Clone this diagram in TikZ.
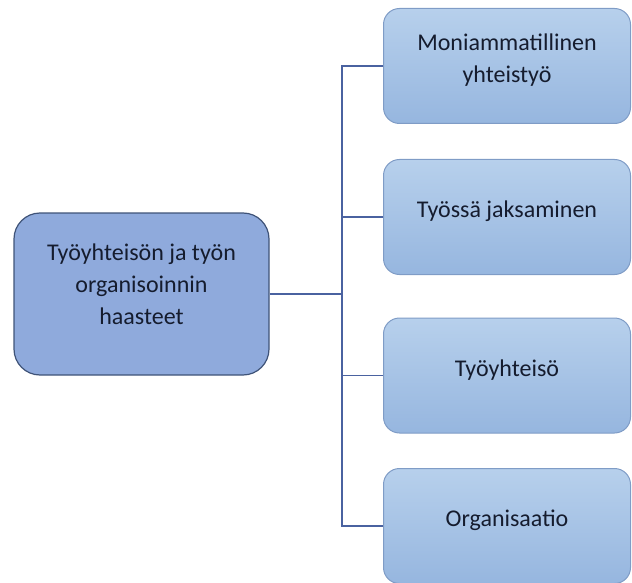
\documentclass[tikz,border=0pt]{standalone}
\usepackage{fontspec}
\setmainfont{Carlito}
\definecolor{mainfill}{HTML}{8FAADC}
\definecolor{mainborder}{HTML}{3F5378}
\definecolor{subtop}{HTML}{B7D0EC}
\definecolor{subbot}{HTML}{96B6DF}
\definecolor{subborder}{HTML}{7F9CC6}
\definecolor{conncol}{HTML}{4A62A0}
\definecolor{textcol}{HTML}{151C2E}
\begin{document}
\begin{tikzpicture}[x=1pt,y=-1pt,
  mainbox/.style={draw=mainborder, line width=1.2pt, fill=mainfill, rounded corners=26pt,
    minimum width=255pt, minimum height=162pt, align=center, text=textcol,
    font=\fontsize{24}{32}\selectfont,
    execute at end node={\rule[-20pt]{0pt}{0pt}}},
  subbox/.style={draw=subborder, line width=1pt, top color=subtop, bottom color=subbot,
    rounded corners=16pt, minimum width=247pt, minimum height=115pt, align=center,
    text=textcol, font=\fontsize{24}{32}\selectfont,
    execute at end node={\rule[-15pt]{0pt}{0pt}}},
  conn/.style={draw=conncol, line width=1.1pt}]
\useasboundingbox (0,0) rectangle (632,583);
\node[mainbox] (main) at (141.5,294) {Työyhteisön ja työn\\organisoinnin\\haasteet};
\node[subbox] (a) at (507,66) {Moniammatillinen\\yhteistyö};
\node[subbox] (b) at (507,217) {Työssä jaksaminen};
\node[subbox] (c) at (507,375.5) {Työyhteisö};
\node[subbox] (d) at (507,526) {Organisaatio};
\coordinate (j) at (342,294);
\draw[conn] (a.west) -- (a.west -| j) -- (d.west -| j) -- (d.west);
\draw[conn] (b.west) -- (b.west -| j);
\draw[conn] (c.west) -- (c.west -| j);
\draw[conn] (main.east) -- (j);
\end{tikzpicture}
\end{document}
